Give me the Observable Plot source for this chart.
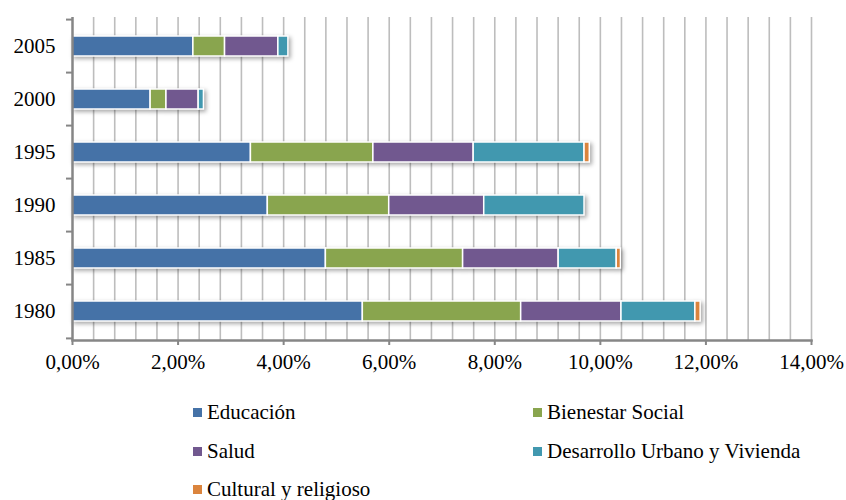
<!DOCTYPE html>
<html>
<head>
<meta charset="utf-8">
<script src="https://cdn.jsdelivr.net/npm/d3@7"></script>
<script src="https://cdn.jsdelivr.net/npm/@observablehq/plot@0.6"></script>
<style>
  html, body { margin: 0; padding: 0; background: #fff; }
  body { width: 846px; height: 500px; overflow: hidden; font-family: "Liberation Serif", "Times New Roman", serif; }
  #legend { position: relative; width: 846px; height: 120px; }
  .item { position: absolute; display: flex; align-items: center; font-size: 21px; color: #000; white-space: nowrap; line-height: 1; }
  .sw { width: 9px; height: 9px; margin-right: 5px; }
</style>
</head>
<body>
<div id="chart"></div>
<div id="legend"></div>
<script>
const years = ["1980", "1985", "1990", "1995", "2000", "2005"];
const series = ["Educación", "Bienestar Social", "Salud", "Desarrollo Urbano y Vivienda", "Cultural y religioso"];
const colors = ["#4572A7", "#89A54E", "#71588F", "#4198AF", "#DB843D"];
const educacion  = [5.50, 4.80, 3.70, 3.38, 1.48, 2.29];
const bienestar  = [3.00, 2.60, 2.30, 2.32, 0.30, 0.60];
const salud      = [1.90, 1.81, 1.80, 1.90, 0.61, 1.01];
const desarrollo = [1.40, 1.10, 1.90, 2.10, 0.10, 0.19];
const cultural   = [0.10, 0.08, 0.00, 0.10, 0.00, 0.00];
const xTicks = [0, 2, 4, 6, 8, 10, 12, 14];

const values = [educacion, bienestar, salud, desarrollo, cultural];
const data = [];
series.forEach((s, i) => years.forEach((y, j) => data.push({series: s, year: y, value: values[i][j]})));

const gridX = d3.range(1, 36).map(k => k * 0.4);
const yOrder = years.slice().reverse();
const half = (340 - 17) / 6 / 2;

const plot = Plot.plot({
  width: 846,
  height: 380,
  marginLeft: 72,
  marginRight: 35,
  marginTop: 17,
  marginBottom: 40,
  style: {fontFamily: "'Liberation Serif', 'Times New Roman', serif", fontSize: "21px", color: "#000", background: "#fff"},
  x: {domain: [0, 14]},
  y: {domain: yOrder, paddingInner: 0.63, paddingOuter: 0.315},
  color: {domain: series, range: colors},
  marks: [
    Plot.ruleX(gridX, {stroke: "#bdbdbd", strokeWidth: 1.6}),
    Plot.barX(data.filter(d => d.value > 0), {x: "value", y: "year", fill: "series", stroke: "white", strokeWidth: 1.5}),
    Plot.ruleX([0], {stroke: "#868686", strokeWidth: 2.5}),
    Plot.frame({anchor: "bottom", stroke: "#868686", strokeWidth: 2.5}),
    Plot.axisY({tickSize: 0, tickPadding: 17, fontSize: 21, label: null}),
    Plot.axisY({tickSize: 6, tickFormat: () => "", dy: -half, stroke: "#868686", strokeWidth: 2, label: null}),
    Plot.axisY(["1980"], {tickSize: 6, tickFormat: () => "", dy: half, stroke: "#868686", strokeWidth: 2, label: null}),
    Plot.axisX({ticks: xTicks, tickSize: 5, tickPadding: 9, fontSize: 21, stroke: "#868686", strokeWidth: 2,
      tickFormat: d => d.toFixed(2).replace(".", ",") + "%", label: null})
  ]
});
d3.select(plot).selectAll('g[aria-label="bar"]').style("filter", "drop-shadow(2px 2px 2px rgba(0,0,0,0.35))");
document.getElementById("chart").appendChild(plot);

const legend = document.getElementById("legend");
const pos = [[193, 32], [533, 32], [193, 71], [533, 71], [193, 109]];
series.forEach((s, i) => {
  const it = document.createElement("div");
  it.className = "item";
  it.style.left = pos[i][0] + "px";
  it.style.top = (pos[i][1] - 11) + "px";
  it.style.height = "22px";
  const sw = document.createElement("span");
  sw.className = "sw";
  sw.style.background = colors[i];
  it.appendChild(sw);
  it.appendChild(document.createTextNode(s));
  legend.appendChild(it);
});
</script>
</body>
</html>
